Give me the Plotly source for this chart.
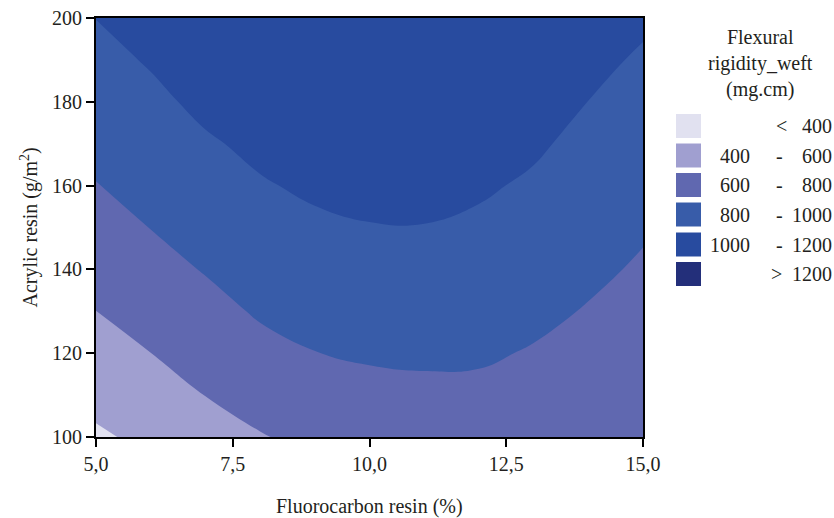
import plotly.graph_objects as go

# ---- data ----
fluorocarbon = [5, 6, 7, 8, 9, 10, 11, 12, 13, 14, 15]            # x, %
acrylic = [100, 110, 120, 130, 140, 150, 160, 170, 180, 190, 200]   # y, g/m2
# flexural rigidity (mg.cm), one row per acrylic level, one column per fluorocarbon level
rigidity = [
    [374, 441, 526, 589, 647, 675, 687, 695, 665, 639, 628],
    [453, 522, 602, 672, 725, 750, 761, 761, 728, 691, 665],
    [528, 599, 675, 749, 797, 820, 829, 823, 787, 741, 702],
    [599, 672, 744, 819, 862, 884, 890, 879, 841, 789, 741],
    [668, 740, 810, 882, 922, 942, 946, 930, 892, 835, 779],
    [733, 803, 871, 939, 975, 994, 996, 977, 939, 879, 819],
    [794, 862, 929, 988, 1023, 1040, 1040, 1018, 981, 922, 859],
    [852, 917, 983, 1031, 1065, 1080, 1078, 1054, 1020, 962, 899],
    [905, 967, 1033, 1067, 1100, 1114, 1110, 1086, 1055, 999, 940],
    [956, 1013, 1079, 1097, 1130, 1142, 1136, 1112, 1085, 1036, 982],
    [1002, 1054, 1121, 1119, 1154, 1164, 1156, 1133, 1112, 1070, 1024],
]
levels = [400, 600, 800, 1000, 1200]
band_colors = ["#e1e1f0", "#a09fd0", "#6068b0", "#385ca9", "#284b9f", "#232f7a"]
legend_low = ["", "400", "600", "800", "1000", ""]
legend_mid = ["<", "-", "-", "-", "-", ">"]
legend_high = ["400", "600", "800", "1000", "1200", "1200"]

x_tickvals = [5, 7.5, 10, 12.5, 15]
x_ticktext = ["5,0", "7,5", "10,0", "12,5", "15,0"]
y_tickvals = [100, 120, 140, 160, 180, 200]

# ---- figure ----
W, H = 834, 518
L, R, T, B = 96, 643, 18, 437
FONT = "Liberation Serif, Times New Roman, serif"
TXT = "#231f20"
FS = 20

n = len(band_colors)
colorscale = [[i / (n - 1), c] for i, c in enumerate(band_colors)]

fig = go.Figure(go.Contour(
    x=fluorocarbon, y=acrylic, z=rigidity,
    contours=dict(start=levels[0], end=levels[-1], size=levels[1] - levels[0],
                  coloring="fill", showlines=False),
    line=dict(width=0, smoothing=1.3),
    colorscale=colorscale, showscale=False, hoverinfo="skip",
))

def px(xp):
    return (xp - L) / (R - L)

def py(yp):
    return (B - yp) / (B - T)

shapes = []
annotations = []
row_y = [126, 155.5, 185, 214.5, 244.5, 274]
font = dict(family=FONT, size=FS, color=TXT)
for i, c in enumerate(band_colors):
    yc = row_y[i]
    shapes.append(dict(type="rect", xref="paper", yref="paper",
                       x0=px(676), x1=px(701), y0=py(yc - 12), y1=py(yc + 12),
                       fillcolor=c, line=dict(width=0)))
    if legend_low[i]:
        annotations.append(dict(xref="paper", yref="paper", x=px(752), y=py(yc),
                                xanchor="right", yanchor="middle", text=legend_low[i],
                                showarrow=False, font=font))
    mid_x = {"-": 779, "<": 781, ">": 776}[legend_mid[i]]
    annotations.append(dict(xref="paper", yref="paper", x=px(mid_x), y=py(yc),
                            xanchor="center", yanchor="middle", text=legend_mid[i],
                            showarrow=False, font=font))
    annotations.append(dict(xref="paper", yref="paper", x=px(834), y=py(yc),
                            xanchor="right", yanchor="middle", text=legend_high[i],
                            showarrow=False, font=font))

annotations.append(dict(xref="paper", yref="paper", x=px(760), y=py(63),
                        xanchor="center", yanchor="middle",
                        text="Flexural<br>rigidity_weft<br>(mg.cm)",
                        showarrow=False, font=font))
# axis titles
annotations.append(dict(xref="paper", yref="paper", x=0.5, y=py(506),
                        xanchor="center", yanchor="middle",
                        text="Fluorocarbon resin (%)", showarrow=False, font=font))
annotations.append(dict(xref="paper", yref="paper", x=px(29), y=0.5,
                        xanchor="center", yanchor="middle", textangle=-90,
                        text="Acrylic resin (g/m<sup>2</sup>)", showarrow=False, font=font))

axis_common = dict(showline=True, linecolor="black", linewidth=2, mirror=True,
                   ticks="outside", ticklen=8, tickwidth=2, tickcolor="black",
                   showgrid=False, zeroline=False, automargin=False,
                   tickfont=font)

fig.update_layout(
    width=W, height=H,
    margin=dict(l=L, r=W - R, t=T, b=H - B, autoexpand=False),
    paper_bgcolor="white", plot_bgcolor="white",
    xaxis=dict(range=[5, 15], tickvals=x_tickvals, ticktext=x_ticktext, **axis_common),
    yaxis=dict(range=[100, 200], tickvals=y_tickvals, **axis_common),
    shapes=shapes, annotations=annotations, showlegend=False,
)

fig.write_html("out.html")
